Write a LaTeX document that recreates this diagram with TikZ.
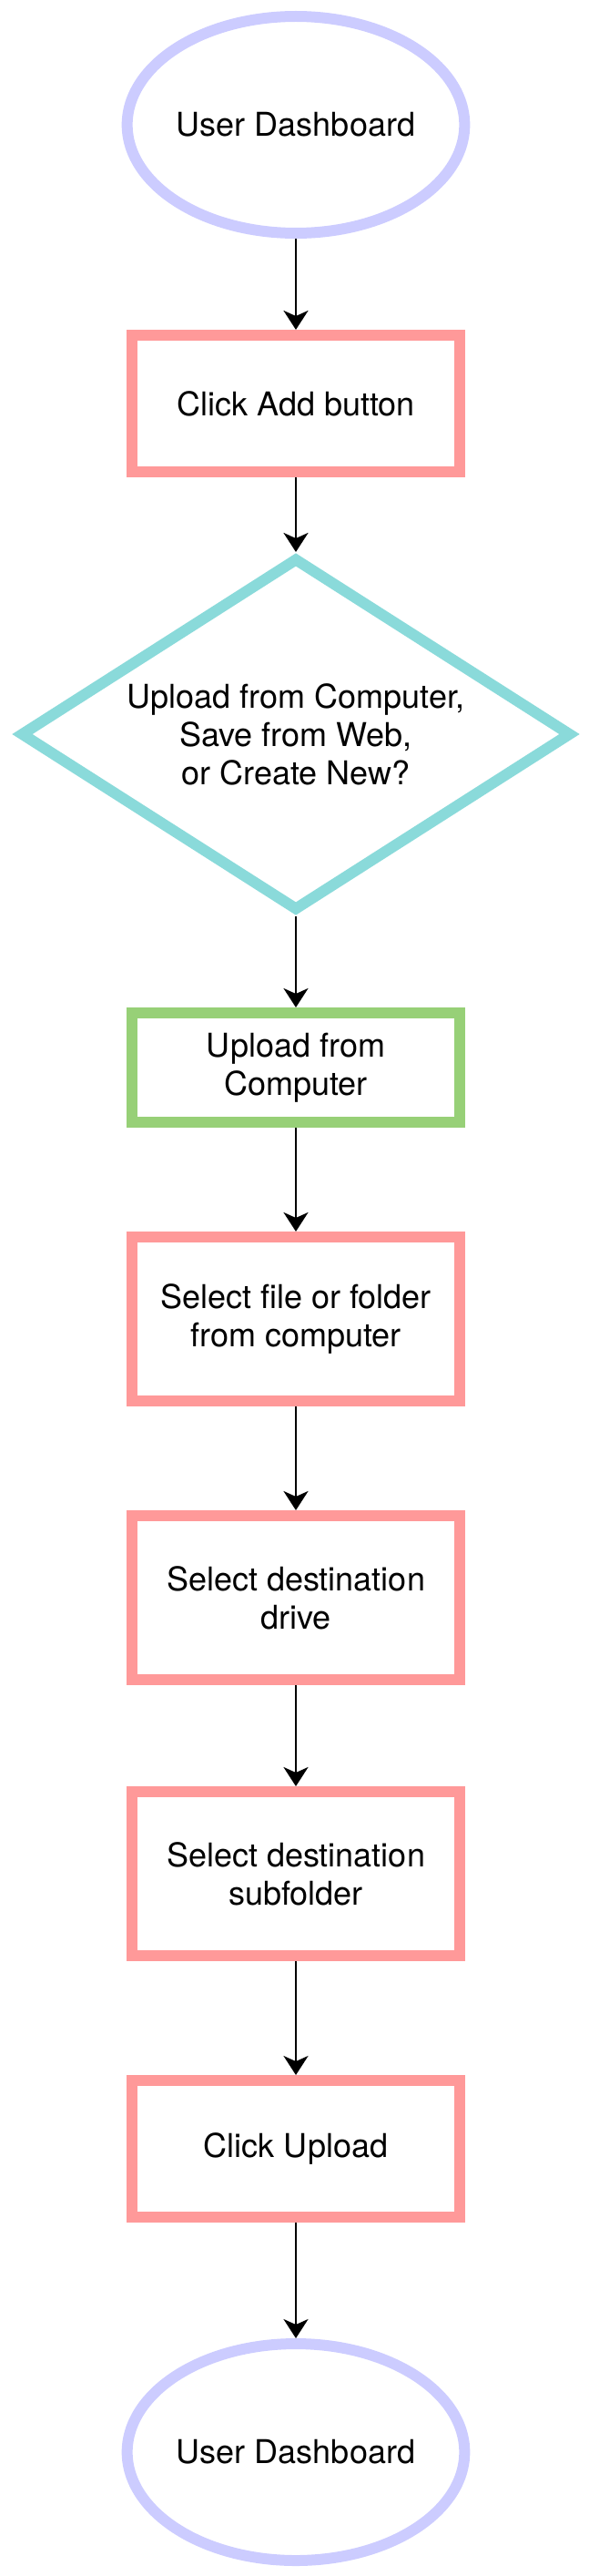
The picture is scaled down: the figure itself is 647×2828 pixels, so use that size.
\documentclass[tikz,border=0pt]{standalone}
\usepackage{fontspec}
\setmainfont{TeX Gyre Heros}
\usetikzlibrary{shapes.geometric,arrows.meta}

\definecolor{termline}{RGB}{204,204,255}
\definecolor{stepline}{RGB}{255,153,153}
\definecolor{askline}{RGB}{138,218,218}
\definecolor{pickline}{RGB}{151,208,119}

\begin{document}
\begin{tikzpicture}[x=1pt,y=-1pt,
  every node/.style={font=\fontsize{36pt}{42pt}\selectfont, align=center, inner sep=0pt},
  term/.style={ellipse, draw=termline, line width=12pt, minimum width=360pt, minimum height=238pt},
  stepbox/.style={rectangle, draw=stepline, line width=12pt, minimum width=360pt, minimum height=180pt},
  ask/.style={diamond, draw=askline, line width=12pt, aspect=1.562, minimum width=606pt, minimum height=388pt},
  flowarrow/.style={-{Stealth[length=21pt,width=27pt,inset=6pt]}, line width=2.8pt}]
\useasboundingbox (0,0) rectangle (647,2828);
% Start
  \node[term] (start) at (325,137) {User Dashboard};
  \node[stepbox, minimum height=150pt] (add) at (325,443) {Click Add button};
% Decision
  \node[ask] (choice) at (325,806) {Upload from Computer,\\Save from Web,\\or Create New?};
% Upload branch
  \node[stepbox, draw=pickline, minimum height=120pt] (upload) at (325,1172) {Upload from\\Computer};
  \node[stepbox] (pickfile) at (325,1448) {Select file or folder\\from computer};
  \node[stepbox] (drive) at (325,1754) {Select destination\\drive};
  \node[stepbox] (subfolder) at (325,2057) {Select destination\\subfolder};
  \node[stepbox, minimum height=150pt] (send) at (325,2359) {Click Upload};
% End
  \node[term] (finish) at (325,2692) {User Dashboard};
% Arrows
  \draw[flowarrow] (start) -- (add);
  \draw[flowarrow] (add) -- (choice);
  \draw[flowarrow] (choice) -- (upload);
  \draw[flowarrow] (upload) -- (pickfile);
  \draw[flowarrow] (pickfile) -- (drive);
  \draw[flowarrow] (drive) -- (subfolder);
  \draw[flowarrow] (subfolder) -- (send);
  \draw[flowarrow] (send) -- (finish);
\end{tikzpicture}
\end{document}
